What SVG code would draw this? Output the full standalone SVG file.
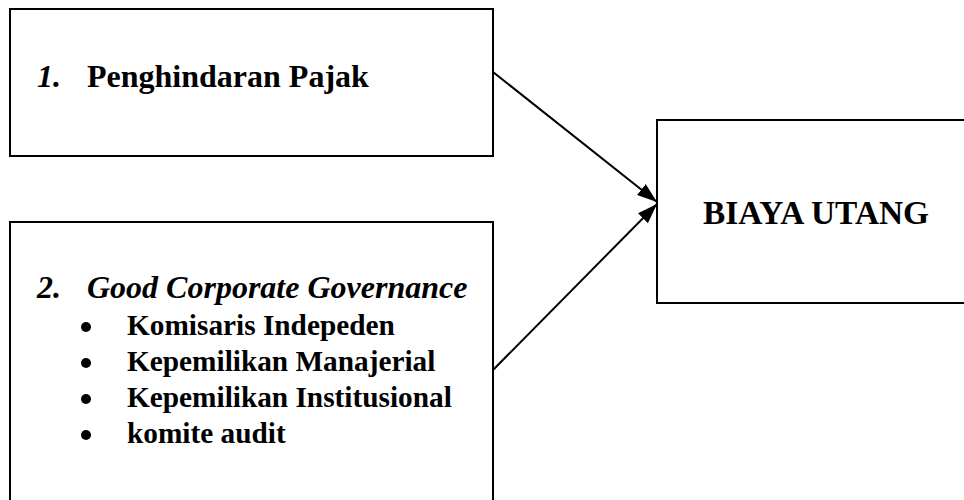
<svg xmlns="http://www.w3.org/2000/svg" width="964" height="500" viewBox="0 0 964 500">
<defs>
<style>
.box{fill:#fff;stroke:#000;stroke-width:2}
.t{font-family:"Liberation Serif","Times New Roman",serif;font-size:32px;font-weight:bold;fill:#000}
.s{font-size:29.3px}
.i{font-style:italic}
.c{stroke:#000;stroke-width:2;fill:none}
</style>
<marker id="arr" viewBox="0 0 20 14" refX="20" refY="7" markerWidth="20" markerHeight="14" orient="auto" markerUnits="userSpaceOnUse">
<path d="M0,0 L20,7 L0,14 z" fill="#000"/>
</marker>
</defs>
<g id="node1">
<rect class="box" x="10" y="9" width="483" height="147"/>
<text class="t i" x="37" y="87">1.</text>
<text class="t" x="87" y="87">Penghindaran Pajak</text>
</g>
<g id="node2">
<rect class="box" x="10" y="222" width="483" height="290"/>
<text class="t i" x="37" y="298">2.</text>
<text class="t i" x="87" y="298">Good Corporate Governance</text>
<circle cx="86" cy="327" r="5"/>
<circle cx="86" cy="363" r="5"/>
<circle cx="86" cy="399" r="5"/>
<circle cx="86" cy="435" r="5"/>
<text class="t s" x="127" y="335">Komisaris Indepeden</text>
<text class="t s" x="127" y="371">Kepemilikan Manajerial</text>
<text class="t s" x="127" y="407">Kepemilikan Institusional</text>
<text class="t s" x="127" y="443">komite audit</text>
</g>
<g id="node3">
<rect class="box" x="657" y="120" width="320" height="183"/>
<text class="t" x="703" y="224" style="font-size:33.4px">BIAYA UTANG</text>
</g>
<g id="connectors">
<line class="c" x1="493" y1="72" x2="657" y2="202" marker-end="url(#arr)"/>
<line class="c" x1="493" y1="370" x2="657" y2="204" marker-end="url(#arr)"/>
</g>
</svg>
